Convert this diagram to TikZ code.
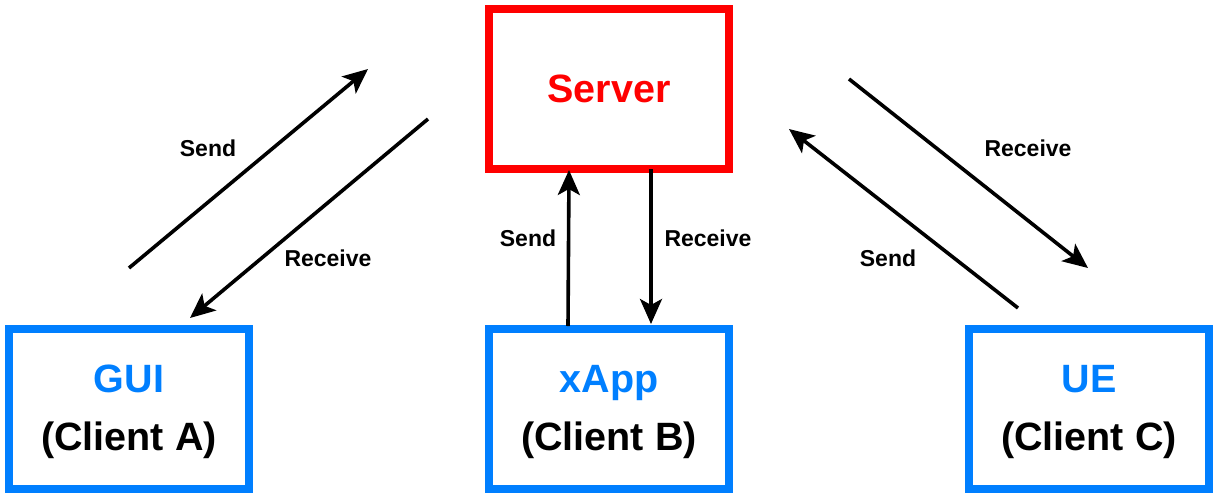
\documentclass[tikz,border=0pt]{standalone}
\usepackage{fontspec}
\setmainfont{Liberation Sans}
\usetikzlibrary{arrows.meta}
\definecolor{srvred}{RGB}{255,0,0}
\definecolor{cliblue}{RGB}{0,127,255}
\begin{document}
\begin{tikzpicture}[x=1pt,y=-1pt,>={Stealth[length=25pt,width=22pt,inset=6pt]},
		box/.style={draw,line width=8pt,minimum width=240pt,minimum height=160pt,inner sep=0pt,align=center,font=\bfseries\fontsize{39.5}{58}\selectfont},
		boxtext/.style={align=center,inner sep=0pt,yshift=-3pt,font=\bfseries\fontsize{39.5}{58}\selectfont},
		msg/.style={font=\bfseries\fontsize{23}{26}\selectfont},
		flow/.style={->,line width=3.6pt}]
						\useasboundingbox (0,0) rectangle (1216,496);
						\def\yt{89} \def\yd{409}
						% boxes
						\node[box,draw=srvred,text=srvred] (server) at (609,\yt) {Server};
						\node[box,draw=cliblue,label={[boxtext]center:{\textcolor{cliblue}{GUI}\\(Client A)}}] (gui) at (129,\yd) {};
						\node[box,draw=cliblue,label={[boxtext]center:{\textcolor{cliblue}{xApp}\\(Client B)}}] (xapp) at (609,\yd) {};
						\node[box,draw=cliblue,label={[boxtext]center:{\textcolor{cliblue}{UE}\\(Client C)}}] (ue) at (1089,\yd) {};
						% free ends of the slanted arrows
						\coordinate (sa0) at (129,268); \coordinate (sa1) at (368,69);
						\coordinate (ra0) at (428,119); \coordinate (ra1) at (190,318);
						\coordinate (rc0) at (849,79); \coordinate (rc1) at (1088,268);
						\coordinate (sc0) at (1018,308); \coordinate (sc1) at (789,129);
						\draw[flow] (sa0)--(sa1);
						\draw[flow] (ra0)--(ra1);
						\draw[flow] (rc0)--(rc1);
						\draw[flow] (sc0)--(sc1);
						\draw[flow] ([xshift=-41pt,yshift=-1pt]xapp.north)--([xshift=-40pt,yshift=3pt]server.south);
						\draw[flow] ([xshift=42pt,yshift=4pt]server.south)--([xshift=42pt,yshift=1pt]xapp.north);
						% labels
						\node[msg] (sendA) at (208,148) {Send};
						\node[msg] (recvA) at (328,258) {Receive};
						\node[msg] (sendB) at (528,238) {Send};
						\node[msg] (recvB) at (708,238) {Receive};
						\node[msg] (recvC) at (1028,148) {Receive};
						\node[msg] (sendC) at (888,258) {Send};
\end{tikzpicture}
\end{document}
